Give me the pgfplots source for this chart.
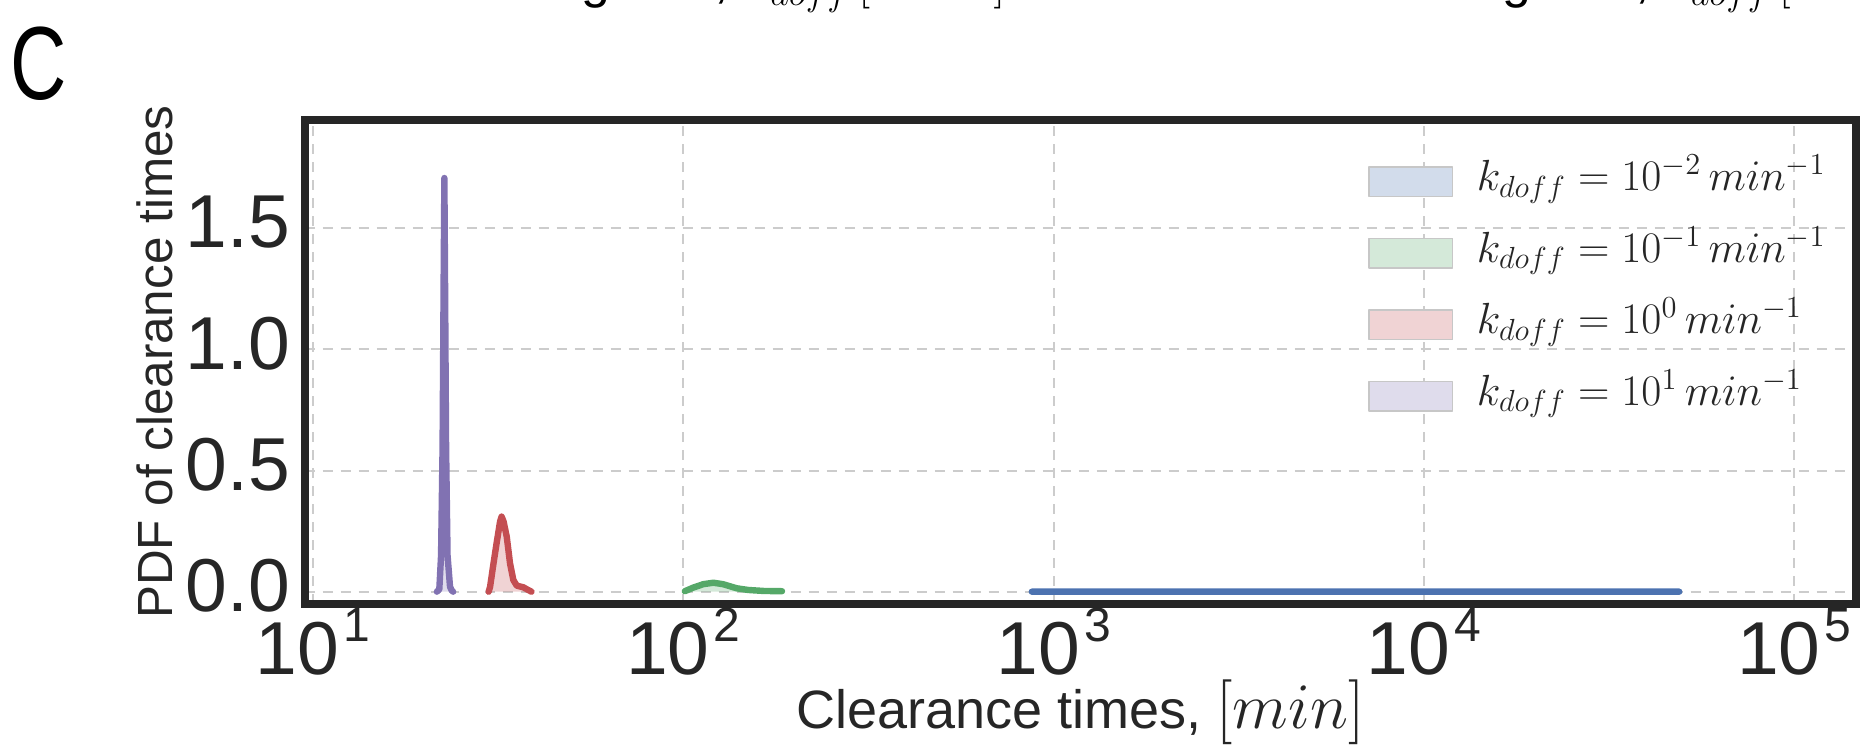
\RequirePackage{fix-cm}
\documentclass[border=0pt]{standalone}
\usepackage[no-math]{fontspec}
\setmainfont{Liberation Sans}
\usepackage{pgfplots}
\pgfplotsset{compat=1.18}
\definecolor{sblue}{HTML}{4C72B0}
\definecolor{sgreen}{HTML}{55A868}
\definecolor{sred}{HTML}{C44E52}
\definecolor{spurple}{HTML}{8172B2}
\definecolor{framecol}{HTML}{262626}
\definecolor{gridcol}{HTML}{CCCCCC}
\newcommand\tp[1]{10\hspace{2pt}\raisebox{16.5pt}{\fontsize{24}{24}\selectfont #1}}
\newcommand\legbox[1]{\draw[fill=#1!25, draw=black!22, line width=0.8pt] (0pt,-7.4pt) rectangle (41.7pt,7.4pt);}
\begin{document}
\begin{tikzpicture}
\useasboundingbox (0,0) rectangle (931pt,377pt);
\node[anchor=base west, inner sep=0pt, font=\fontsize{52}{60}\selectfont, xscale=0.75] at (5pt,327pt) {C};
\node[anchor=base west, inner sep=0pt, font=\fontsize{26}{30}\selectfont] at (192.5pt,378pt) {unbinding rate, $k_{doff}$\,{\fontsize{23}{26}\selectfont$[min^{-1}]$}};
\node[anchor=base west, inner sep=0pt, font=\fontsize{26}{30}\selectfont] at (652.75pt,378pt) {unbinding rate, $k_{doff}$\,{\fontsize{23}{26}\selectfont$[min^{-1}]$}};
\begin{axis}[
  scale only axis, width=775.75pt, height=241.75pt,
  at={(152.25pt,75pt)}, anchor=south west,
  xmode=log, log basis x=10,
  xmin=9.484, xmax=146800, ymin=-0.0508, ymax=1.9455,
  xtick={10,100,1000,10000,100000},
  xticklabels={\tp{1},\tp{2},\tp{3},\tp{4},\tp{5}},
  ytick={0,0.5,1,1.5}, yticklabels={0.0,0.5,1.0,1.5},
  xminorticks=false, yminorticks=false,
  major tick length=0pt,
  grid=major,
  major grid style={dash pattern=on 5pt off 4pt, line width=1pt, color=gridcol},
  axis line style={line width=4pt, color=framecol, line cap=rect},
  tick label style={font=\fontsize{37.5}{45}\selectfont, inner sep=0pt, text=framecol},
  xticklabel style={yshift=-2pt},
  yticklabel style={xshift=-7pt, yshift=3pt},
  xlabel={Clearance times, {\fontsize{32.5}{36}\selectfont$[min]$}},
  ylabel={PDF of clearance times},
  xlabel style={at={(axis description cs:0.5,-0.2585)}, anchor=base, font=\fontsize{27}{30}\selectfont, text=framecol, inner sep=0pt},
  ylabel style={at={(axis description cs:-0.0851,0.5)}, anchor=base, font=\fontsize{24.7}{30}\selectfont, text=framecol, inner sep=0pt},
  legend style={draw=none, fill=none, inner sep=0pt,
    at={(axis description cs:0.6855,0.918)}, anchor=north west,
    row sep=14.8pt, font=\fontsize{21.8}{22}\selectfont, text=framecol,
    cells={anchor=west},
    nodes={inner sep=0pt, text height=15pt, text depth=6pt},
    /tikz/every odd column/.append style={column sep=11.7pt}},
  every axis plot/.append style={line join=round, line cap=round},
]
% fills
\addplot[draw=none, fill=sblue, fill opacity=0.25, forget plot] coordinates {(873,0) (1500,0.0002) (3000,0.0003) (6000,0.0003) (12000,0.0002) (25000,0.0001) (48900,0)} \closedcycle;
\addplot[draw=none, fill=sgreen, fill opacity=0.25, forget plot] coordinates {(100.9,0.002) (106.4,0.017) (113.2,0.031) (120.5,0.037) (128,0.031) (139.4,0.014) (150,0.007) (165,0.003) (184.7,0.002)} \closedcycle;
\addplot[draw=none, fill=sred, fill opacity=0.25, forget plot] coordinates {(29.8,0) (30.07,0.02) (30.69,0.113) (31.34,0.204) (32.0,0.29) (32.3,0.31) (32.7,0.29) (33.35,0.227) (34.04,0.117) (34.75,0.048) (35.5,0.025) (37.0,0.018) (37.8,0.01) (38.9,0)} \closedcycle;
\addplot[draw=none, fill=spurple, fill opacity=0.25, forget plot] coordinates {(21.6,0) (21.93,0.01) (22.17,0.15) (22.38,0.6) (22.52,1.25) (22.63,1.708) (22.73,1.25) (22.87,0.6) (23.08,0.15) (23.44,0.02) (23.69,0.005) (23.9,0)} \closedcycle;
% lines
\addplot[sblue, line width=3.2pt, forget plot] coordinates {(873,0) (1500,0.0002) (3000,0.0003) (6000,0.0003) (12000,0.0002) (25000,0.0001) (48900,0)};
\addplot[sgreen, line width=3.2pt, forget plot] coordinates {(100.9,0.002) (106.4,0.017) (113.2,0.031) (120.5,0.037) (128,0.031) (139.4,0.014) (150,0.007) (165,0.003) (184.7,0.002)};
\addplot[sred, line width=3.2pt, forget plot] coordinates {(29.8,0) (30.07,0.02) (30.69,0.113) (31.34,0.204) (32.0,0.29) (32.3,0.31) (32.7,0.29) (33.35,0.227) (34.04,0.117) (34.75,0.048) (35.5,0.025) (37.0,0.018) (37.8,0.01) (38.9,0)};
\addplot[spurple, line width=3.2pt, forget plot] coordinates {(21.6,0) (21.93,0.01) (22.17,0.15) (22.38,0.6) (22.52,1.25) (22.63,1.708) (22.73,1.25) (22.87,0.6) (23.08,0.15) (23.44,0.02) (23.69,0.005) (23.9,0)};
% legend
\addlegendimage{legend image code/.code={\legbox{sblue}}}
\addlegendentry{$k_{doff} = 10^{-2}\,min^{-1}$}
\addlegendimage{legend image code/.code={\legbox{sgreen}}}
\addlegendentry{$k_{doff} = 10^{-1}\,min^{-1}$}
\addlegendimage{legend image code/.code={\legbox{sred}}}
\addlegendentry{$k_{doff} = 10^{0}\,min^{-1}$}
\addlegendimage{legend image code/.code={\legbox{spurple}}}
\addlegendentry{$k_{doff} = 10^{1}\,min^{-1}$}
\end{axis}
\end{tikzpicture}
\end{document}
